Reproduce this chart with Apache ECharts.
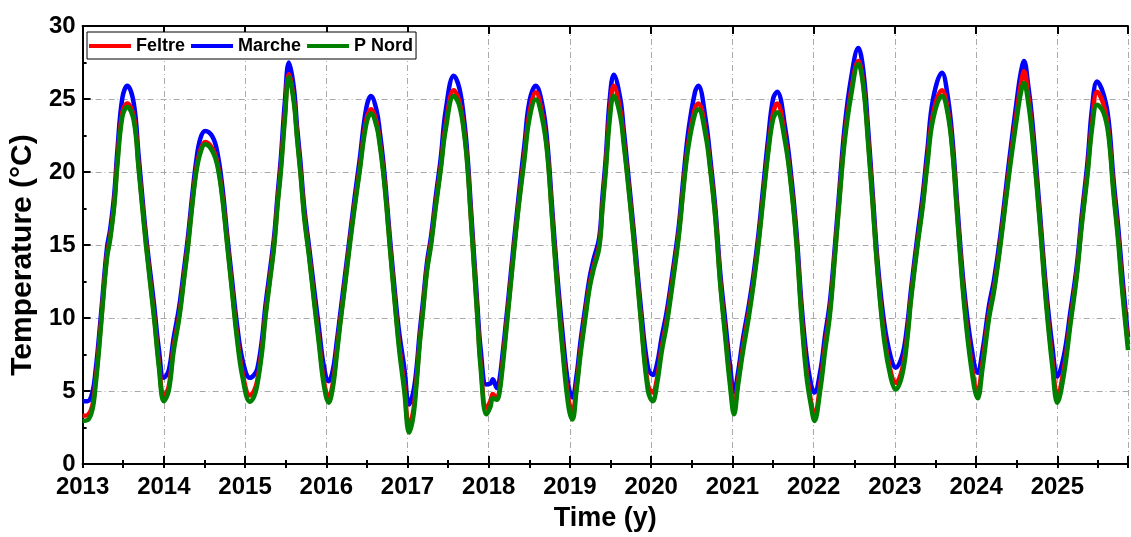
<!DOCTYPE html>
<html>
<head>
<meta charset="utf-8">
<script src="https://cdn.jsdelivr.net/npm/echarts@6/dist/echarts.min.js"></script>
<style>
html,body{margin:0;padding:0;background:#fff;}
#chart{width:1131px;height:537px;}
</style>
</head>
<body>
<div id="chart"></div>
<script>
// Time (decimal years)
const times = [
 2013.00,2013.06,2013.12,2013.16,2013.20,2013.24,2013.30,2013.34,2013.39,2013.43,2013.49,2013.55,2013.63,2013.69,2013.78,2013.88,2013.94,
 2014.00,2014.06,2014.12,2014.19,2014.25,2014.30,2014.35,2014.40,2014.45,2014.51,2014.60,2014.66,2014.72,2014.78,2014.84,2014.90,2014.97,
 2015.06,2015.11,2015.15,2015.21,2015.25,2015.31,2015.36,2015.40,2015.44,2015.49,2015.54,2015.60,2015.64,2015.68,2015.73,2015.79,2015.85,2015.91,2015.97,
 2016.03,2016.08,2016.13,2016.17,2016.23,2016.29,2016.35,2016.41,2016.49,2016.55,2016.62,2016.66,2016.70,2016.74,2016.78,2016.86,2016.90,2016.96,
 2017.02,2017.07,2017.11,2017.15,2017.19,2017.24,2017.29,2017.35,2017.41,2017.47,2017.57,2017.64,2017.70,2017.74,2017.78,2017.82,2017.86,2017.90,
 2017.97,2018.02,2018.05,2018.10,2018.13,2018.17,2018.21,2018.25,2018.31,2018.37,2018.44,2018.50,2018.58,2018.66,2018.72,2018.78,2018.84,2018.91,2018.98,
 2019.03,2019.08,2019.13,2019.19,2019.24,2019.29,2019.36,2019.40,2019.44,2019.49,2019.54,2019.62,2019.66,2019.70,2019.79,2019.87,2019.96,
 2020.02,2020.07,2020.13,2020.19,2020.26,2020.34,2020.40,2020.46,2020.54,2020.58,2020.67,2020.73,2020.79,2020.85,2020.91,2020.97,
 2021.02,2021.07,2021.13,2021.20,2021.26,2021.32,2021.38,2021.44,2021.50,2021.55,2021.65,2021.73,2021.79,2021.85,2021.91,2021.97,
 2022.01,2022.08,2022.14,2022.20,2022.26,2022.32,2022.38,2022.46,2022.55,2022.61,2022.67,2022.73,2022.79,2022.87,2022.95,
 2023.01,2023.09,2023.15,2023.20,2023.28,2023.34,2023.40,2023.47,2023.58,2023.65,2023.71,2023.77,2023.85,2023.94,
 2024.02,2024.08,2024.16,2024.22,2024.30,2024.41,2024.51,2024.55,2024.59,2024.64,2024.69,2024.78,2024.86,2024.94,
 2025.00,2025.08,2025.16,2025.24,2025.30,2025.37,2025.43,2025.49,2025.57,2025.63,2025.69,2025.75,2025.80,2025.87
];

// Temperature (°C)
const feltre = [
 3.3,3.35,4.0,5.7,8.0,10.6,14.3,15.6,17.9,20.9,24.1,24.7,23.8,20.4,15.2,10.2,6.9,
 4.65,5.3,8.0,10.2,12.9,15.2,17.9,20.2,21.5,22.06,21.6,20.6,18.4,15.2,12.0,8.9,6.2,
 4.7,5.0,5.7,8.0,10.2,12.9,15.2,17.9,20.3,23.9,26.7,25.0,22.5,20.2,17.0,14.3,11.3,8.5,5.7,
 4.58,5.5,7.8,9.7,12.4,15.2,17.8,20.2,23.5,24.3,23.4,22.0,20.2,17.9,15.2,10.2,8.0,5.4,
 2.6,3.6,5.7,8.4,10.6,13.4,15.2,17.9,20.4,23.2,25.6,24.8,22.7,20.4,17.0,13.6,10.2,6.9,
 3.85,4.3,4.8,4.5,5.0,6.9,9.1,11.3,14.7,17.9,21.2,24.0,25.46,23.9,21.5,17.0,12.5,8.0,4.5,
 3.6,5.3,7.8,10.3,12.2,13.5,15.0,17.7,20.3,24.1,25.9,24.2,22.3,20.2,15.2,10.2,5.4,
 4.9,5.8,8.0,9.8,12.5,15.8,19.2,22.1,24.4,24.7,22.8,20.2,17.0,12.5,9.1,5.8,
 3.85,5.7,8.0,10.3,12.5,15.2,18.4,21.5,24.0,24.7,22.3,18.8,15.2,10.3,6.5,4.2,
 3.3,5.4,8.1,10.5,14.3,18.4,22.3,25.5,27.6,26.1,22.3,17.7,13.1,8.7,6.3,
 5.56,6.5,8.7,11.5,15.2,17.7,20.8,24.0,25.6,24.3,21.5,17.0,11.4,7.0,
 5.0,7.0,10.3,12.0,15.2,20.3,24.5,26.0,26.9,25.3,22.8,17.0,11.4,7.0,
 4.77,6.5,9.8,13.1,16.5,20.0,23.5,25.5,24.6,22.8,18.9,15.5,12.1,8.2
];
const marche = [
 4.3,4.3,4.9,6.4,8.6,11.1,14.8,16.1,18.5,21.6,25.1,25.9,24.7,21.1,15.7,10.9,7.8,
 5.9,6.4,8.6,10.8,13.4,15.7,18.4,20.8,22.3,22.8,22.4,21.3,19.0,15.7,12.6,9.6,7.1,
 5.9,6.1,6.5,8.6,10.8,13.4,15.7,18.4,20.9,24.8,27.5,25.8,23.1,20.8,17.5,14.8,12.0,9.3,6.7,
 5.67,6.4,8.4,10.2,12.9,15.6,18.3,20.8,24.3,25.2,24.2,22.7,20.8,18.4,15.7,10.9,8.9,6.6,
 4.08,4.9,6.5,9.0,11.1,13.8,15.6,18.4,21.0,24.2,26.6,25.7,23.4,21.0,17.6,14.2,10.9,7.9,
 5.45,5.5,5.8,5.2,5.7,7.5,9.6,11.8,15.2,18.4,21.9,24.8,25.9,24.6,22.1,17.6,13.2,8.9,5.4,
 4.55,6.0,8.4,10.8,12.7,14.0,15.5,18.3,20.9,25.0,26.66,25.0,23.0,20.8,15.7,10.9,6.6,
 6.1,6.8,8.7,10.4,13.0,16.3,19.8,22.9,25.5,25.9,23.6,20.8,17.5,13.1,9.9,6.8,
 4.9,6.3,8.6,10.8,13.0,15.7,19.0,22.3,25.0,25.5,23.0,19.4,15.8,11.0,7.5,5.4,
 4.9,6.3,8.8,11.1,14.8,19.0,23.0,26.4,28.5,27.0,23.0,18.3,13.7,9.6,7.3,
 6.6,7.4,9.4,12.0,15.7,18.3,21.5,25.0,26.8,25.2,22.2,17.6,12.1,8.1,
 6.25,7.8,10.9,12.6,15.7,20.9,25.3,26.8,27.6,26.0,23.6,17.6,12.1,8.0,
 6.0,7.4,10.4,13.6,17.0,20.6,24.5,26.2,25.3,23.6,19.6,16.2,12.9,8.7
];
const pNord = [
 2.95,3.0,3.7,5.4,7.7,10.4,14.1,15.4,17.7,20.6,23.8,24.45,23.5,20.2,15.0,10.0,6.6,
 4.3,5.0,7.7,10.0,12.7,15.0,17.7,20.0,21.3,21.9,21.4,20.4,18.2,15.0,11.8,8.6,5.9,
 4.27,4.6,5.4,7.7,10.0,12.7,15.0,17.7,20.0,23.6,26.5,24.8,22.3,20.0,16.8,14.1,11.1,8.2,5.4,
 4.2,5.2,7.5,9.5,12.2,15.0,17.6,20.0,23.2,24.0,23.1,21.8,20.0,17.7,15.0,10.0,7.7,5.0,
 2.15,3.2,5.4,8.2,10.4,13.2,15.0,17.7,20.2,22.9,25.2,24.5,22.5,20.2,16.8,13.4,10.0,6.6,
 3.4,3.9,4.5,4.4,4.8,6.6,8.8,11.1,14.5,17.7,20.9,23.6,24.96,23.6,21.3,16.8,12.3,7.7,4.0,
 3.05,5.0,7.5,10.0,12.0,13.3,14.8,17.5,20.0,23.6,25.23,23.8,22.0,20.0,15.0,10.0,5.0,
 4.3,5.4,7.7,9.5,12.2,15.6,19.0,21.8,24.0,24.3,22.5,20.0,16.8,12.3,8.8,5.4,
 3.4,5.4,7.7,10.0,12.3,15.0,18.2,21.3,23.6,24.1,22.0,18.6,15.0,10.0,6.1,3.9,
 2.95,5.0,7.7,10.2,14.1,18.2,22.0,25.2,27.4,25.9,22.0,17.5,12.9,8.4,5.9,
 5.1,6.1,8.4,11.3,15.0,17.5,20.5,23.6,25.2,24.0,21.3,16.8,11.1,6.6,
 4.5,6.6,10.0,11.8,15.0,20.0,24.0,25.4,26.1,24.8,22.5,16.8,11.1,6.6,
 4.2,6.1,9.5,12.9,16.3,19.7,23.1,24.6,24.05,22.5,18.6,15.2,11.8,7.8
];

const seriesNames = ['Feltre', 'Marche', 'P Nord'];
const xMin = 2013, xMax = 2025.87;
const yMin = 0, yMax = 30;

const FONT = 'Arial, "Liberation Sans", sans-serif';
const gridLine = {show: true, lineStyle: {color: '#aaaaaa', width: 1, type: [6, 3, 1, 3]}};
const majorTick = {show: true, inside: true, length: 8, lineStyle: {color: '#000', width: 2}};
const minorTickAx = {show: true, inside: true, length: 4, lineStyle: {color: '#000', width: 2}};
const blackLine = {show: true, onZero: false, lineStyle: {color: '#000', width: 2}};

function pairs(arr) { return times.map((t, i) => [t, arr[i]]); }

const chart = echarts.init(document.getElementById('chart'), null, {renderer: 'canvas'});
chart.setOption({
  animation: false,
  backgroundColor: '#fff',
  textStyle: {fontFamily: FONT},
  grid: {left: 82, right: 0, top: 26, bottom: 70, containLabel: false},
  legend: {
    data: seriesNames,
    left: 87, top: 32,
    padding: [5, 3, 4, 2],
    itemGap: 6, itemWidth: 42, itemHeight: 4,
    icon: 'rect',
    borderColor: '#000', borderWidth: 1, backgroundColor: '#fff',
    textStyle: {fontSize: 18, fontWeight: 'bold', color: '#000', fontFamily: FONT}
  },
  xAxis: [
    {type: 'value', position: 'bottom', min: xMin, max: xMax, interval: 1,
     axisLine: blackLine, axisTick: majorTick,
     axisLabel: {formatter: v => Number.isInteger(v) ? String(v) : '', fontSize: 24, fontWeight: 'bold', color: '#000', margin: 11, fontFamily: FONT},
     splitLine: gridLine,
     name: 'Time (y)', nameLocation: 'middle', nameGap: 41,
     nameTextStyle: {fontSize: 27, fontWeight: 'bold', color: '#000', fontFamily: FONT}},
    {type: 'value', position: 'bottom', min: xMin, max: xMax, interval: 0.5,
     axisLine: {show: false}, axisTick: minorTickAx, axisLabel: {show: false}, splitLine: {show: false}},
    {type: 'value', position: 'top', min: xMin, max: xMax, interval: 1,
     axisLine: blackLine, axisTick: majorTick, axisLabel: {show: false}, splitLine: {show: false}},
    {type: 'value', position: 'top', min: xMin, max: xMax, interval: 0.5,
     axisLine: {show: false}, axisTick: minorTickAx, axisLabel: {show: false}, splitLine: {show: false}}
  ],
  yAxis: [
    {type: 'value', position: 'left', min: yMin, max: yMax, interval: 5,
     axisLine: blackLine, axisTick: majorTick,
     axisLabel: {fontSize: 24, fontWeight: 'bold', color: '#000', margin: 7, fontFamily: FONT},
     splitLine: gridLine,
     name: 'Temperature (°C)', nameLocation: 'middle', nameGap: 32,
     nameTextStyle: {fontSize: 30, fontWeight: 'bold', color: '#000', fontFamily: FONT, padding: [0, 20, 0, 0]}},
    {type: 'value', position: 'left', min: yMin, max: yMax, interval: 2.5,
     axisLine: {show: false}, axisTick: minorTickAx, axisLabel: {show: false}, splitLine: {show: false}}
  ],
  series: [
    {name: 'Marche', type: 'line', data: pairs(marche), showSymbol: false, smooth: 0.4,
     color: '#0000ff', lineStyle: {color: '#0000ff', width: 4.5}, z: 2},
    {name: 'Feltre', type: 'line', data: pairs(feltre), showSymbol: false, smooth: 0.4,
     color: '#ff0000', lineStyle: {color: '#ff0000', width: 4.5}, z: 3},
    {name: 'P Nord', type: 'line', data: pairs(pNord), showSymbol: false, smooth: 0.4,
     color: '#008000', lineStyle: {color: '#008000', width: 4.5}, z: 4}
  ]
});
</script>
</body>
</html>
